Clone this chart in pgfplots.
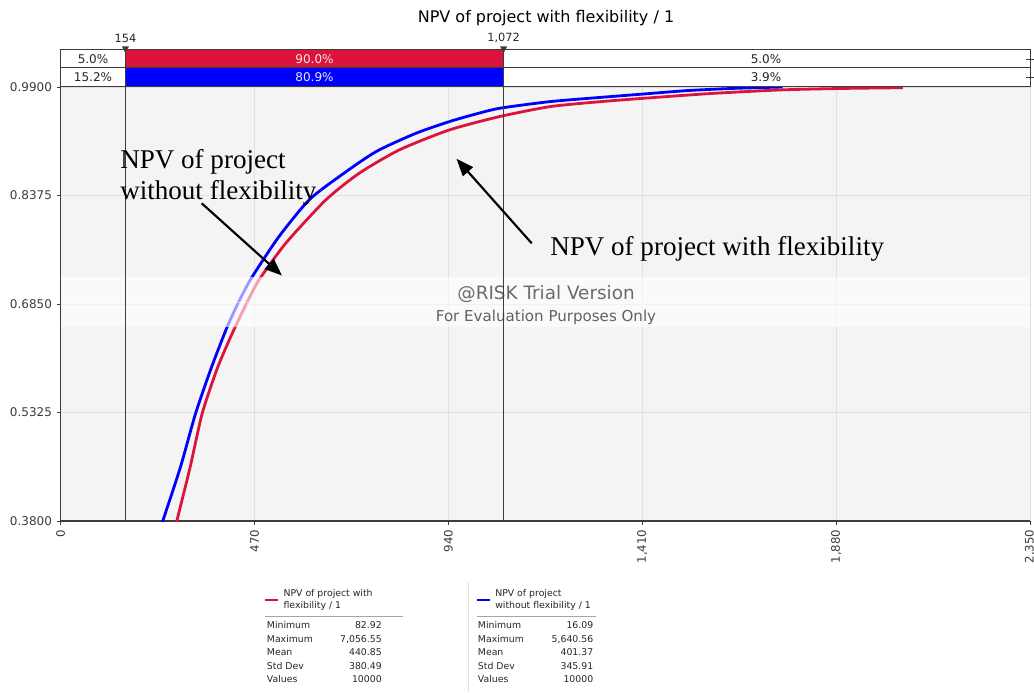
\documentclass[border=0pt]{standalone}
\usepackage{pgfplots}
\pgfplotsset{compat=1.18}
\usepackage{fontspec}
\setmainfont{DejaVu Sans}
\newfontfamily\tnr{Liberation Serif}
\usetikzlibrary{arrows.meta}
\definecolor{myred}{RGB}{220,20,60}
\definecolor{myblue}{RGB}{0,0,255}
\definecolor{bggray}{RGB}{244,244,244}
\definecolor{gridgray}{RGB}{224,224,224}
\definecolor{txtgray}{RGB}{60,60,60}
\newcommand{\fs}[1]{\fontsize{#1}{#1}\selectfont}
\begin{document}
\begin{tikzpicture}
\path[use as bounding box] (0,0) rectangle (775.5pt,-519pt);
\begin{axis}[
 at={(45.5pt,-390.75pt)}, anchor=south west,
 scale only axis, width=727pt, height=325.5pt,
 xmin=0, xmax=2350, ymin=0.38, ymax=0.99,
 xtick={0,470,940,1410,1880,2350},
 ytick={0.38,0.5325,0.685,0.8375,0.99},
 scaled x ticks=false, scaled y ticks=false,
 axis background/.style={fill=bggray},
 grid=major, major grid style={gridgray, line width=0.7pt},
 axis x line*=bottom, axis y line*=left,
 axis line style={-, txtgray, line width=0.9pt},
 tick align=outside, major tick length=3pt, tick style={txtgray, line width=0.6pt},
 /pgf/number format/assume math mode=true,
 xticklabel style={rotate=90, anchor=east, font=\fs{8.8}, text=txtgray, /pgf/number format/1000 sep={,}},
 yticklabel style={font=\fs{9}, text=txtgray, /pgf/number format/.cd, fixed, fixed zerofill, precision=4},
]
\addplot[myred, line width=2.1pt, line join=round, smooth, tension=0.4] coordinates {
(275,0.364) (281.6,0.38) (314,0.456) (343,0.531) (380,0.595) (416,0.6438) (450,0.685) (480.7,0.7187) (545.5,0.7703) (642.6,0.8312) (723.5,0.8687) (820.6,0.9015) (942,0.9296) (1063,0.9483) (1185,0.9623) (1300,0.969) (1410,0.974) (1580,0.981) (1750,0.986) (1900,0.988) (2042,0.989)
};
\addplot[myblue, line width=2.1pt, line join=round, smooth, tension=0.4] coordinates {
(240,0.366) (247.6,0.38) (290.5,0.456) (327,0.531) (365,0.595) (403.8,0.653) (435,0.692) (464.5,0.7234) (529,0.7796) (602,0.8312) (675,0.864) (764,0.899) (861,0.9249) (942,0.9413) (1000,0.951) (1063,0.960) (1185,0.9694) (1300,0.975) (1410,0.980) (1520,0.985) (1629,0.988) (1750,0.990)
};
\end{axis}
\begin{scope}[x=0.75pt,y=-0.75pt]
% watermark band
\fill[white,opacity=0.6] (61,277) rectangle (1030,327);
\draw[white,opacity=0.5,line width=0.5pt] (61,302) -- (1030,302);
\node[anchor=base, text=black!58, font=\fs{13.8}] at (546,299.3) {@RISK Trial Version};
\node[anchor=base, text=black!62, font=\fs{11.3}] at (546,321.7) {For Evaluation Purposes Only};
% delimiter lines
\draw[txtgray, line width=0.75pt] (125.4,50) -- (125.4,521);
\draw[txtgray, line width=0.75pt] (503.6,50) -- (503.6,521);
% top bars
\fill[white] (60.7,50) rectangle (1030,86);
\fill[myred] (125.4,50) rectangle (503.6,68);
\fill[myblue] (125.4,68) rectangle (503.6,86);
\draw[txtgray, line width=0.75pt] (60.7,50) rectangle (1030,86);
\draw[txtgray, line width=0.75pt] (60.7,68) -- (1030,68);
\draw[txtgray, line width=0.75pt] (125.4,50) -- (125.4,86);
\draw[txtgray, line width=0.75pt] (503.6,50) -- (503.6,86);
\draw[txtgray, line width=0.6pt] (1026,59) -- (1034,59) (1030,56) -- (1030,62);
\draw[txtgray, line width=0.6pt] (1026,77) -- (1034,77) (1030,74) -- (1030,80);
\fill[txtgray] (121.9,46.5) -- (128.9,46.5) -- (125.4,53) -- cycle;
\fill[txtgray] (500.1,46.5) -- (507.1,46.5) -- (503.6,53) -- cycle;
\node[font=\fs{8.5}, text=black!85] at (125.4,38) {154};
\node[font=\fs{8.5}, text=black!85] at (503.6,38) {1,072};
\node[font=\fs{9}, text=black!85] at (93,59.5) {5.0\%};
\node[font=\fs{9}, text=black!85] at (93,77.5) {15.2\%};
\node[font=\fs{9}, text=white!92!black] at (314.5,59.5) {90.0\%};
\node[font=\fs{9}, text=white!92!black] at (314.5,77.5) {80.9\%};
\node[font=\fs{9}, text=black!85] at (766,59.5) {5.0\%};
\node[font=\fs{9}, text=black!85] at (766,77.5) {3.9\%};
% title
\node[font=\fs{12}, text=black] at (546,18) {NPV of project with flexibility / 1};
% annotations
\node[anchor=base west, font=\tnr\fs{20.3}, inner sep=0pt] at (120,168) {NPV of project};
\node[anchor=base west, font=\tnr\fs{20.3}, inner sep=0pt] at (120,199.3) {without flexibility};
\node[anchor=base west, font=\tnr\fs{20.3}, inner sep=0pt] at (550,255) {NPV of project with flexibility};
\draw[black, line width=1.6pt, -{Triangle[length=13pt,width=10pt]}] (201.7,203.3) -- (282,275.5);
\draw[black, line width=1.6pt, -{Triangle[length=13pt,width=10pt]}] (531.7,243.3) -- (456.5,158.8);
% legend tables
\draw[gray!25, line width=0.6pt] (468.3,582) -- (468.3,692);
\draw[myred, line width=2pt] (265,600) -- (278,600);
\node[anchor=base west, font=\fs{7}, inner sep=0pt, text=black!85] at (283.3,596.5) {NPV of project with};
\node[anchor=base west, font=\fs{7}, inner sep=0pt, text=black!85] at (283.3,608.5) {flexibility / 1};
\draw[gray!70, line width=0.6pt] (265,616) -- (403,616);
\draw[myblue, line width=2pt] (477,600) -- (490,600);
\node[anchor=base west, font=\fs{7}, inner sep=0pt, text=black!85] at (495,596.5) {NPV of project};
\node[anchor=base west, font=\fs{7}, inner sep=0pt, text=black!85] at (495,608.5) {without flexibility / 1};
\draw[gray!70, line width=0.6pt] (477,616) -- (596,616);
\foreach \lab/\yy/\va/\vb in {Minimum/628.5/82.92/16.09, Maximum/642/{7,056.55}/{5,640.56}, Mean/655.5/440.85/401.37, Std Dev/669/380.49/345.91, Values/682.5/10000/10000}{
 \node[anchor=base west, font=\fs{7}, inner sep=0pt, text=black!85] at (266.7,\yy) {\lab};
 \node[anchor=base east, font=\fs{7}, inner sep=0pt, text=black!85] at (382,\yy) {\va};
 \node[anchor=base west, font=\fs{7}, inner sep=0pt, text=black!85] at (477.7,\yy) {\lab};
 \node[anchor=base east, font=\fs{7}, inner sep=0pt, text=black!85] at (593.5,\yy) {\vb};
}
\end{scope}
\end{tikzpicture}
\end{document}
